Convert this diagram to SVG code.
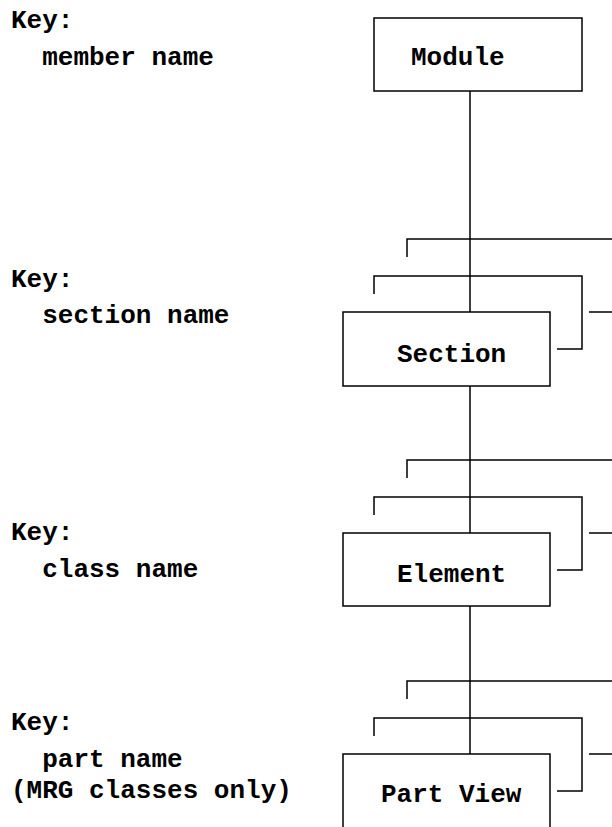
<svg xmlns="http://www.w3.org/2000/svg" width="612" height="827" viewBox="0 0 612 827">
<style>
text{font-family:"Liberation Mono","Courier New",monospace;font-weight:bold;font-size:26px;fill:#000}
.box{fill:#fff;stroke:#000;stroke-width:1.5}
.ln{fill:none;stroke:#000;stroke-width:1.5}
</style>
<rect width="612" height="827" fill="#fff"/>
<g id="keys">
<text x="11" y="28">Key:</text>
<text x="11" y="65" xml:space="preserve">  member name</text>
<text x="11" y="287">Key:</text>
<text x="11" y="323" xml:space="preserve">  section name</text>
<text x="11" y="540">Key:</text>
<text x="11" y="577" xml:space="preserve">  class name</text>
<text x="11" y="730">Key:</text>
<text x="11" y="767" xml:space="preserve">  part name</text>
<text x="11" y="798">(MRG classes only)</text>
</g>
<g id="connectors">
<path class="ln" d="M470,91V312M470,386V533M470,606V754"/>
<path class="ln" d="M407,257V239H612M374,294V276H582V349H557M589,312H612"/>
<path class="ln" d="M407,478V460H612M374,515V497H582V570H557M589,533H612"/>
<path class="ln" d="M407,699V681H612M374,736V718H582V791H557M589,754H612"/>
</g>
<g id="module">
<rect class="box" x="374" y="18" width="208" height="73"/>
<text x="411" y="65">Module</text>
</g>
<g id="section">
<rect class="box" x="343" y="312" width="207" height="74"/>
<text x="397" y="362">Section</text>
</g>
<g id="element">
<rect class="box" x="343" y="533" width="207" height="73"/>
<text x="397" y="582">Element</text>
</g>
<g id="partview">
<rect class="box" x="343" y="754" width="207" height="90"/>
<text x="381" y="802">Part View</text>
</g>
</svg>
